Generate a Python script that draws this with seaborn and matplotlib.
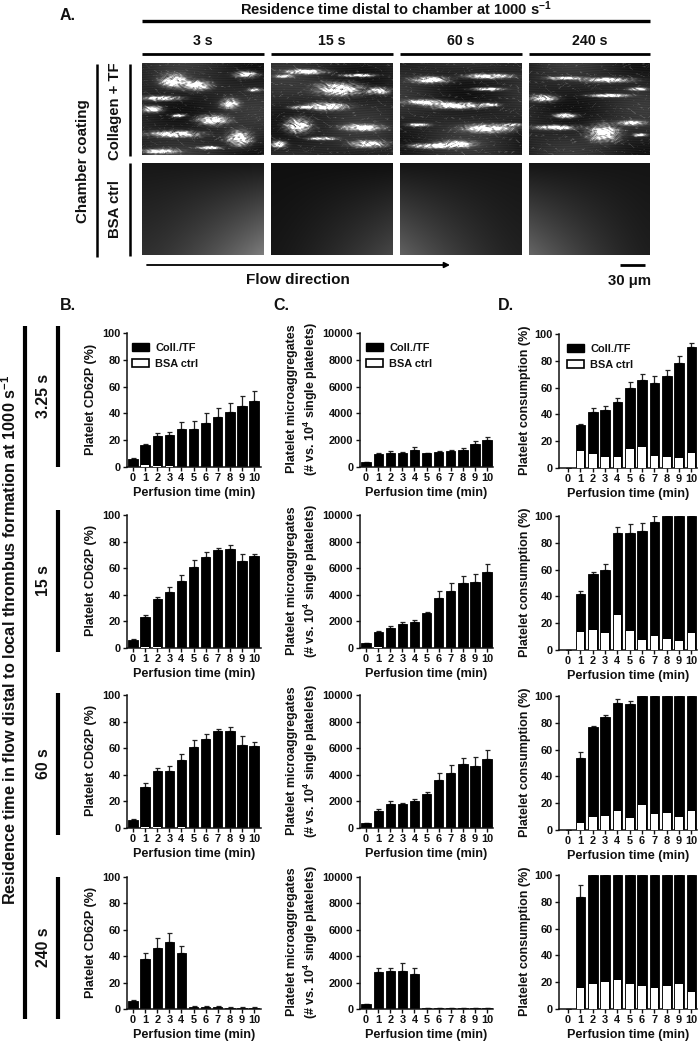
import numpy as np
import pandas as pd
import matplotlib
matplotlib.use("Agg")
import matplotlib.pyplot as plt
from matplotlib.patches import Patch
import seaborn as sns

W, H = 698, 1048
minutes = list(range(11))

# Panel B: platelet CD62P (%)
b_coll = [[6, 16.5, 23, 24, 28.5, 28.5, 33, 37, 41, 45.5, 49.5],
          [6, 23.5, 37, 42, 50.5, 61, 68.5, 74, 74.5, 65.5, 69],
          [6, 31, 42.5, 43, 51.5, 61, 67, 73, 73, 62.5, 61.5],
          [6, 38, 46, 50.5, 42.5, 1.5, 1.5, 1.5, 1, 1, 1]]
b_top = [[6.5, 17, 25.5, 26, 33.5, 34, 40, 44, 48, 53, 56.5],
         [6.5, 24.5, 38, 46, 55, 66.5, 72.5, 75.5, 77.5, 71, 70.5],
         [6.5, 33.5, 45, 46.5, 56, 66.5, 71, 74.5, 76, 69.5, 65],
         [6.5, 42.5, 53.5, 57.5, 47.5, 2, 2.3, 2, 1.3, 1.3, 1.3]]
b_bsa = [[0, 1.5, 0.7, 0.8, 0.3, 0.3, 0.3, 0.3, 0.3, 0.3, 0.3],
         [0, 1, 0.5, 0.3, 0.3, 0.3, 0.3, 0.3, 0.3, 0.3, 0.3],
         [0, 1, 1, 0.3, 0.5, 0.3, 0.3, 0.3, 0.3, 0.3, 0.3],
         [0, 0.3, 0.3, 0.3, 0.3, 0.3, 0.3, 0.3, 0.3, 0.3, 0.3]]

# Panel C: platelet microaggregates
c_coll = [[350, 1000, 1030, 1060, 1300, 1020, 1120, 1180, 1300, 1720, 2000],
          [350, 1200, 1520, 1790, 1950, 2600, 3750, 4250, 4870, 4970, 5750],
          [350, 1300, 1820, 1820, 2040, 2540, 3620, 4170, 4800, 4670, 5220],
          [350, 2780, 2850, 2880, 2670, 60, 70, 70, 70, 50, 70]]
c_top = [[400, 1080, 1180, 1150, 1500, 1080, 1220, 1270, 1430, 1970, 2270],
         [400, 1300, 1650, 1920, 2120, 2700, 4250, 4900, 5400, 5600, 6350],
         [400, 1430, 2040, 1900, 2170, 2740, 4120, 4770, 5300, 5330, 5830],
         [400, 3100, 3130, 3470, 3120, 70, 80, 80, 80, 60, 80]]
c_bsa = [[0, 30, 20, 20, 20, 20, 20, 20, 20, 20, 20],
         [0, 50, 20, 20, 20, 20, 20, 20, 20, 20, 20],
         [0, 30, 20, 20, 20, 20, 20, 20, 20, 20, 20],
         [0, 20, 20, 20, 20, 20, 20, 20, 20, 20, 20]]

# Panel D: platelet consumption (%)
d_coll = [[0, 32, 42, 43.5, 49, 59.5, 66, 63.5, 69, 78.5, 90],
          [0, 42, 56.5, 59.5, 87, 87.5, 88.5, 95.5, 100, 100, 100],
          [0, 54, 77, 84, 95, 94, 100, 100, 100, 100, 100],
          [0, 83.5, 100, 100, 100, 100, 100, 100, 100, 100, 100]]
d_top = [[0, 32.5, 44.5, 46, 52.5, 64.5, 70.5, 68.5, 73.5, 83.5, 93],
         [0, 44, 58.5, 64, 92, 94, 95, 100, 100, 100, 100],
         [0, 58, 77.5, 86, 97.5, 96.5, 100, 100, 100, 100, 100],
         [0, 92.5, 100, 100, 100, 100, 100, 100, 100, 100, 100]]
d_bsa = [[0, 12.5, 10.5, 8.5, 8, 14, 16, 9, 8, 7.5, 11.5],
         [0, 13.5, 15, 13, 26, 14.5, 7.5, 10.5, 8, 7, 13],
         [0, 5.5, 9.5, 10.5, 14, 9, 18.5, 12, 13, 10, 14.5],
         [0, 16, 19, 20, 22, 18.5, 17, 16, 17, 19, 13]]

residence_cols = ["3 s", "15 s", "60 s", "240 s"]
residence_rows = ["3.25 s", "15 s", "60 s", "240 s"]

# Bright thrombus patches seen in the micrographs: centre x, centre y, half width, half height (panel fractions)
thrombi = [
    [(.26, .19, .12, .08), (.45, .24, .12, .06), (.16, .38, .17, .03), (.08, .50, .09, .04), (.58, .62, .14, .06),
     (.27, .77, .23, .04), (.80, .82, .11, .09), (.85, .12, .10, .04), (.72, .44, .08, .06), (.55, .92, .10, .02),
     (.14, .96, .17, .03), (.92, .29, .06, .02), (.30, .57, .06, .02)],
    [(.28, .09, .17, .03), (.56, .28, .21, .08), (.88, .30, .10, .04), (.46, .47, .18, .05), (.22, .68, .12, .09),
     (.75, .70, .17, .04), (.80, .88, .16, .04), (.06, .88, .07, .04), (.10, .14, .08, .02), (.72, .13, .14, .02),
     (.25, .48, .10, .02), (.42, .82, .12, .02)],
    [(.25, .18, .16, .04), (.72, .14, .20, .03), (.72, .28, .14, .02), (.20, .42, .18, .03), (.46, .46, .24, .04),
     (.74, .45, .08, .02), (.15, .67, .10, .02), (.72, .71, .22, .05), (.28, .90, .22, .03), (.46, .88, .16, .04),
     (.92, .67, .08, .02)],
    [(.30, .16, .16, .02), (.65, .18, .22, .03), (.12, .38, .12, .04), (.66, .35, .18, .02), (.30, .57, .10, .03),
     (.22, .70, .18, .03), (.62, .76, .14, .10), (.85, .65, .12, .03), (.90, .28, .08, .02), (.92, .78, .06, .02)],
]
# BSA control panels: background level and glow at the bottom-left and bottom-right corners
bsa_glow = [(.09, .10, .40), (.06, .03, .22), (.08, .30, .05), (.08, .32, .04)]

sns.set_theme(style="ticks")
plt.rcParams.update({
    "font.family": ["Liberation Sans", "DejaVu Sans"],
    "font.weight": "bold", "axes.labelweight": "bold",
    "mathtext.fontset": "custom", "mathtext.rm": "Liberation Sans:bold",
    "mathtext.bf": "Liberation Sans:bold", "mathtext.default": "bf",
    "axes.edgecolor": "#111111", "xtick.color": "#111111", "ytick.color": "#111111",
    "text.color": "#111111", "axes.labelcolor": "#111111",
})

fig = plt.figure(figsize=(W / 100, H / 100), dpi=100, facecolor="white")


def px_axes(x0, y0, x1, y1):
    return fig.add_axes([x0 / W, 1 - y1 / H, (x1 - x0) / W, (y1 - y0) / H])


# Overlay in pixel units for the annotations
ov = px_axes(0, 0, W, H)
ov.set_xlim(0, W)
ov.set_ylim(H, 0)
ov.axis("off")
ov.set_zorder(5)


def rule(x0, y0, x1, y1, lw=2.0):
    ov.plot([x0, x1], [y0, y1], color="black", lw=lw, solid_capstyle="butt")


def label(x, y, s, size=9.5, rot=0, **kw):
    ov.text(x, y, s, fontsize=size, rotation=rot, ha="center", va="center", fontweight="bold", **kw)


# Micrographs
img_x = [(142, 264), (271, 393), (400, 522), (529, 650)]
yy, xx = np.mgrid[0:1:184j, 0:1:244j]


def lumps(phase):
    """Irregular surface texture built from a few warped sine waves."""
    wx = xx + 0.03 * np.sin(yy * 31 + phase) + 0.012 * np.sin(yy * 83 + 2 * phase)
    wy = yy + 0.025 * np.sin(xx * 27 + 2 * phase) + 0.01 * np.sin(xx * 71 + phase)
    field = (np.sin(wx * 61 + phase) * np.sin(wy * 97 - phase)
             + 0.7 * np.sin(wx * 137 + 3 * wy * 40 + phase) * np.sin(wy * 173 + 1.3 * phase)
             + 0.5 * np.sin(wx * 29 - wy * 53 + 2.1 * phase))
    return (field - field.min()) / (field.max() - field.min())


for i, (x0, x1) in enumerate(img_x):
    n = lumps(i * 1.7 + 0.4)
    lines = 0.5 + 0.5 * np.sin(yy * 240 + 3 * np.sin(xx * 7 + i))
    img = 0.14 + 0.08 * np.sin(xx * 5 + i) * np.cos(yy * 6 - i) + 0.03 * lines + 0.55 * np.clip(n - 0.68, 0, 1)
    for cx, cy, wx_, wy_ in thrombi[i]:
        blob = np.exp(-(((xx - cx) / wx_) ** 2 + ((yy - cy) / wy_) ** 2) * 1.7)
        img = img + blob * (0.2 + 1.7 * n)
    a = px_axes(x0, 63, x1, 155)
    sns.heatmap(np.clip(img, 0, 1), ax=a, cmap="gray", vmin=0, vmax=1, cbar=False,
                xticklabels=False, yticklabels=False)
    base, left, right = bsa_glow[i]
    dark = base + yy * ((1 - xx) ** 1.3 * left + xx ** 1.3 * right)
    a = px_axes(x0, 163, x1, 255)
    sns.heatmap(dark, ax=a, cmap="gray", vmin=0, vmax=1, cbar=False, xticklabels=False, yticklabels=False)

# Panel A annotations
label(68, 16, "A.", 11.5)
label(396, 9, r"Residence time distal to chamber at 1000 s$^{-1}$", 10.5)
rule(142, 20.5, 650, 20.5, 2.4)
for (x0, x1), name in zip(img_x, residence_cols):
    label((x0 + x1) / 2, 41, name, 10.2)
    rule(x0, 54, x1, 54, 2.0)
rule(96.5, 64, 96.5, 257, 1.8)
rule(130, 64, 130, 156, 1.8)
rule(130, 163, 130, 256, 1.8)
label(83, 161, "Chamber coating", 10.9, 90)
label(115, 111, "Collagen + TF", 10.7, 90)
label(115, 209, "BSA ctrl", 10.7, 90)
ov.annotate("", xy=(450, 265), xytext=(147, 265),
            arrowprops=dict(arrowstyle="-|>", color="black", lw=1.3, mutation_scale=8, shrinkA=0, shrinkB=0))
label(298, 280, "Flow direction", 11)
rule(620, 265, 645, 265, 2.0)
label(630, 281, "30 μm", 10.8)
label(68, 306, "B.", 11.5)
label(281, 306, "C.", 11.5)
label(506, 306, "D.", 11.5)

rule(25, 326, 25, 1019, 3.0)
label(10, 640, r"Residence time in flow distal to local thrombus formation at 1000 s$^{-1}$", 11.7, 90)
row_lines = [(326, 467), (510, 652), (693, 835), (877, 1019)]
for (y0, y1), name in zip(row_lines, residence_rows):
    rule(58, y0, 58, y1, 3.0)
    label(43, (y0 + y1) / 2 - 0.5, name, 11.4, 90)

# Bar panels: pixel frame of every column and row
rows_bc = [(333, 467), (515, 648), (695, 828), (877, 1009)]
rows_d = [(334, 468), (516, 650), (696, 830), (875, 1009)]
columns = [
    dict(x=(127, 261), rows=rows_bc, coll=b_coll, top=b_top, bsa=b_bsa, ymax=100, yticks=[0, 20, 40, 60, 80, 100],
         left=-0.5, right=10.58, ylab="Platelet CD62P (%)", ylab_x=91, leg_x=0.04),
    dict(x=(359.5, 493), rows=rows_bc, coll=c_coll, top=c_top, bsa=c_bsa, ymax=10000,
         yticks=[0, 2000, 4000, 6000, 8000, 10000], left=-0.55, right=10.5,
         ylab="Platelet microaggregates\n" + r"(# vs. 10$^{4}$ single platelets)", ylab_x=303, leg_x=0.05),
    dict(x=(559, 697), rows=rows_d, coll=d_coll, top=d_top, bsa=d_bsa, ymax=100, yticks=[0, 20, 40, 60, 80, 100],
         left=-0.73, right=10.45, ylab="Platelet consumption (%)", ylab_x=525, leg_x=0.06),
]

for col_i, col in enumerate(columns):
    for r, (y0, y1) in enumerate(col["rows"]):
        ax = px_axes(col["x"][0], y0, col["x"][1], y1)
        df = pd.DataFrame({"min": minutes, "coll": col["coll"][r], "top": col["top"][r], "bsa": col["bsa"][r]})
        ax.errorbar(df["min"], df["coll"], yerr=[np.zeros(len(df)), df["top"] - df["coll"]], fmt="none",
                    ecolor="#222222", elinewidth=0.9, capsize=1.8, capthick=0.9, zorder=1)
        sns.barplot(data=df, x="min", y="coll", color="black", saturation=1, width=0.78, ax=ax,
                    edgecolor="black", linewidth=0.6, errorbar=None, zorder=2)
        sns.barplot(data=df[df["bsa"] > 0], x="min", y="bsa", order=minutes, color="white", saturation=1, width=0.62,
                    ax=ax, edgecolor="white", linewidth=0, errorbar=None, zorder=3)
        ax.set_xlim(col["left"], col["right"])
        ax.set_ylim(0, col["ymax"])
        ax.set_yticks(col["yticks"])
        ax.set_xticks(minutes)
        ax.set_xticklabels([str(m) for m in minutes])
        ax.tick_params(axis="both", labelsize=7.9, length=3, width=1.0, pad=1.5)
        ax.set_xlabel("Perfusion time (min)", fontsize=9.1, labelpad=2.5, fontweight="bold")
        ax.set_ylabel("")
        sns.despine(ax=ax)
        for s in ("left", "bottom"):
            ax.spines[s].set_linewidth(1.1)
        label(col["ylab_x"], (y0 + y1) / 2 - 1, col["ylab"], 9.0, 90, linespacing=1.22)
        if r == 0:
            handles = [Patch(facecolor="black", edgecolor="black", label="Coll./TF"),
                       Patch(facecolor="white", edgecolor="black", linewidth=1.2, label="BSA ctrl")]
            ax.legend(handles=handles, loc="upper left", bbox_to_anchor=(col["leg_x"], 0.925), frameon=False,
                      prop=dict(size=7.9, weight="bold"), handlelength=1.55, handleheight=0.75,
                      labelspacing=0.55, handletextpad=0.55, borderpad=0, borderaxespad=0)

fig.savefig("out.png", dpi=100, facecolor="white")
